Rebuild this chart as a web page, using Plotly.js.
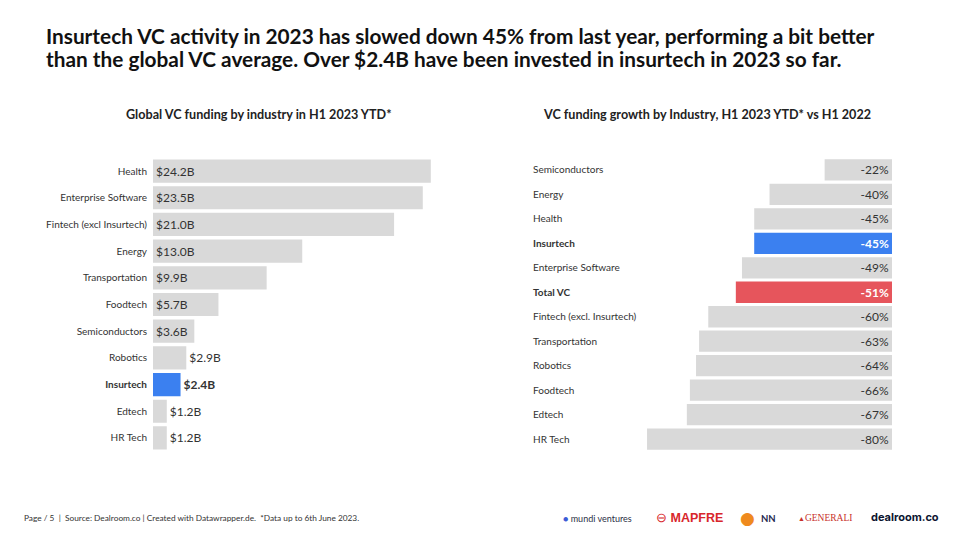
<!DOCTYPE html>
<html>
<head>
<meta charset="utf-8">
<script src="https://cdn.plot.ly/plotly-3.0.1.min.js"></script>
<style>
html,body{margin:0;padding:0;background:#fff;}
#chart{width:960px;height:540px;}
</style>
</head>
<body>
<div id="chart"></div>
<script>
// ---- Data ----
const fundingIndustries = ["Health","Enterprise Software","Fintech (excl Insurtech)","Energy","Transportation","Foodtech","Semiconductors","Robotics","Insurtech","Edtech","HR Tech"];
const fundingValues = [24.2, 23.5, 21.0, 13.0, 9.9, 5.7, 3.6, 2.9, 2.4, 1.2, 1.2];

const growthIndustries = ["Semiconductors","Energy","Health","Insurtech","Enterprise Software","Total VC","Fintech (excl. Insurtech)","Transportation","Robotics","Foodtech","Edtech","HR Tech"];
const growthValues = [-22, -40, -45, -45, -49, -51, -60, -63, -64, -66, -67, -80];

const highlightBlue = "Insurtech";
const highlightRed = "Total VC";

const titleLines = [
  "Insurtech VC activity in 2023 has slowed down 45% from last year, performing a bit better",
  "than the global VC average. Over $2.4B have been invested in insurtech in 2023 so far."
];

// ---- Styling ----
const FONT = "Lato, 'Source Sans Pro', 'Noto Sans', sans-serif";
const GRAY = "#d9d9d9", BLUE = "#3b80f0", RED = "#e6555c", TXT = "#333333";

const leftColors = fundingIndustries.map(c => c === highlightBlue ? BLUE : GRAY);
const leftText = fundingValues.map((v,i) => {
  const s = "$" + v.toFixed(1) + "B";
  return fundingIndustries[i] === highlightBlue ? "<b>" + s + "</b>" : s;
});
const leftPos = fundingValues.map(v => v >= 3.5 ? "inside" : "outside");
const leftTicks = fundingIndustries.map(c => c === highlightBlue ? "<b>" + c + "</b>" : c);

const rightColors = growthIndustries.map(c => c === highlightBlue ? BLUE : (c === highlightRed ? RED : GRAY));
const rightText = growthValues.map((v,i) => {
  const s = v + "%";
  const c = growthIndustries[i];
  return (c === highlightBlue || c === highlightRed) ? "<b>" + s + "</b>" : s;
});
const rightTextColors = growthIndustries.map(c => (c === highlightBlue || c === highlightRed) ? "#ffffff" : TXT);
const rightTicks = growthIndustries.map(c => (c === highlightBlue || c === highlightRed) ? "<b>" + c + "</b>" : c);

const traces = [
  {
    type: "bar", orientation: "h",
    x: fundingValues, y: fundingIndustries,
    xaxis: "x", yaxis: "y",
    marker: {color: leftColors},
    text: leftText, textposition: leftPos, insidetextanchor: "start",
    textfont: {family: FONT, size: 12, color: TXT},
    cliponaxis: false, hoverinfo: "skip"
  },
  {
    type: "bar", orientation: "h",
    x: growthValues, y: growthIndustries,
    xaxis: "x2", yaxis: "y2",
    marker: {color: rightColors},
    text: rightText, textposition: "inside", insidetextanchor: "start",
    textfont: {family: FONT, size: 12, color: rightTextColors},
    hoverinfo: "skip"
  }
];

const yDom = [1 - 451.3/540, 1 - 157.7/540];

const titleAnnots = titleLines.map((t, i) => ({
  xref:"paper", yref:"paper", x:44/960, y:1-(36 + i*22.7)/540, xanchor:"left", yanchor:"middle",
  align:"left", showarrow:false, text:"<b>" + t + "</b>",
  font:{family:FONT, size:20.8, color:"#111111"}
}));

const layout = {
  width: 960, height: 540,
  margin: {l:0, r:0, t:0, b:0},
  paper_bgcolor: "#ffffff", plot_bgcolor: "#ffffff",
  showlegend: false,
  font: {family: FONT, color: TXT},
  xaxis: {domain: [153/960, 440/960], range: [0, 25], visible: false, fixedrange: true},
  yaxis: {domain: yDom, anchor: "x", autorange: "reversed", tickmode: "array",
          tickvals: fundingIndustries, ticktext: leftTicks,
          showgrid: false, zeroline: false, showline: false, ticks: "",
          ticklabelstandoff: 5,
          tickfont: {family: FONT, size: 10, color: TXT}},
  xaxis2: {domain: [527/960, 892/960], range: [-119.2, 0], visible: false, fixedrange: true},
  yaxis2: {domain: yDom, anchor: "x2", autorange: "reversed", tickmode: "array",
           tickvals: growthIndustries, ticktext: rightTicks,
           ticklabelposition: "inside", ticklabelstandoff: 3,
           showgrid: false, zeroline: false, showline: false, ticks: "",
           tickfont: {family: FONT, size: 10, color: TXT}},
  bargap: 0.13,
  annotations: titleAnnots.concat([
    {xref:"paper", yref:"paper", x:259/960, y:1-114/540, xanchor:"center", yanchor:"middle", showarrow:false,
     text:"<b>Global VC funding by industry in H1 2023 YTD*</b>", font:{family:FONT, size:12.6, color:"#222"}},
    {xref:"paper", yref:"paper", x:707/960, y:1-114/540, xanchor:"center", yanchor:"middle", showarrow:false,
     text:"<b>VC funding growth by Industry, H1 2023 YTD* vs H1 2022</b>", font:{family:FONT, size:12.6, color:"#222"}},
    {xref:"paper", yref:"paper", x:22/960, y:1-518/540, xanchor:"left", yanchor:"middle", showarrow:false,
     text:"Page / 5  |  Source: Dealroom.co | Created with Datawrapper.de.  *Data up to 6th June 2023.",
     font:{family:FONT, size:8.3, color:"#333"}},
    {xref:"paper", yref:"paper", x:561/960, y:1-518/540, xanchor:"left", yanchor:"middle", showarrow:false,
     text:"<span style='color:#3b5bd6'>●</span> mundi ventures", font:{family:FONT, size:9, color:"#2a2f45"}},
    {xref:"paper", yref:"paper", x:654/960, y:1-518/540, xanchor:"left", yanchor:"middle", showarrow:false,
     text:"⊖ <b>MAPFRE</b>", font:{family:"Liberation Sans, Arial, sans-serif", size:12.5, color:"#d8262b"}},
    {xref:"paper", yref:"paper", x:738/960, y:1-518/540, xanchor:"left", yanchor:"middle", showarrow:false,
     text:"●", font:{family:"DejaVu Sans, sans-serif", size:17, color:"#ef8a1e"}},
    {xref:"paper", yref:"paper", x:759/960, y:1-518/540, xanchor:"left", yanchor:"middle", showarrow:false,
     text:"<b>NN</b>", font:{family:FONT, size:9.5, color:"#1f2a50"}},
    {xref:"paper", yref:"paper", x:796/960, y:1-518/540, xanchor:"left", yanchor:"middle", showarrow:false,
     text:"<span style='font-size:7px'>▲</span>GENERALI", font:{family:"Liberation Serif, 'DejaVu Serif', serif", size:9.5, color:"#c8312a"}},
    {xref:"paper", yref:"paper", x:869/960, y:1-517/540, xanchor:"left", yanchor:"middle", showarrow:false,
     text:"<b>dealroom.co</b>", font:{family:"Inter, Roboto, sans-serif", size:11, color:"#0c1530"}}
  ])
};

Plotly.newPlot("chart", traces, layout, {displayModeBar:false, staticPlot:true});
</script>
</body>
</html>
